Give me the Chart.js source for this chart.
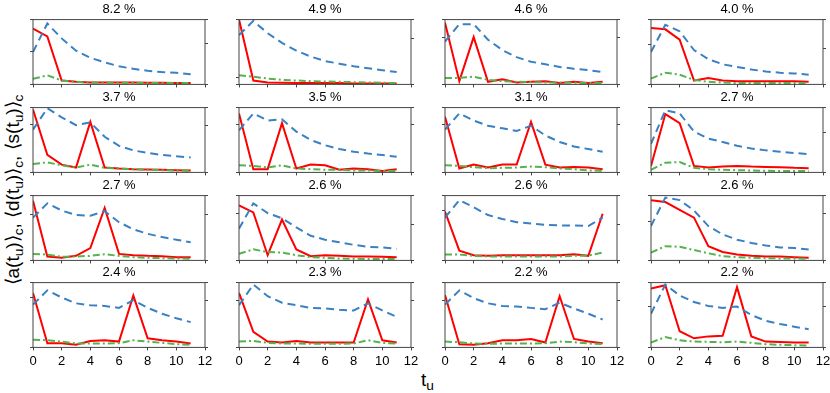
<!DOCTYPE html>
<html>
<head>
<meta charset="utf-8">
<script src="https://cdn.jsdelivr.net/npm/chart.js@4.4.1/dist/chart.umd.min.js"></script>
<style>
  body { margin: 0; background: #fff; width: 830px; height: 393px; position: relative; overflow: hidden;
         font-family: "Liberation Sans", Arial, sans-serif; }
  canvas { position: absolute; }
  #ylab { position: absolute; left: 13px; top: 190px; transform: translate(-50%, -50%) rotate(-90deg);
          white-space: nowrap; font-size: 19px; color: #000; }
  #xlab { position: absolute; left: 421px; top: 369px; font-size: 19px; color: #000; }
  sub { font-size: 0.72em; vertical-align: -4px; }
</style>
</head>
<body>
<div id="ylab">⟨a(t<sub>u</sub>)⟩<sub>c</sub>, ⟨d(t<sub>u</sub>)⟩<sub>c</sub>, ⟨s(t<sub>u</sub>)⟩<sub>c</sub></div>
<div id="xlab">t<sub>u</sub></div>
<script>
// panel titles (share of users)
const titles = ['8.2 %', '4.9 %', '4.6 %', '4.0 %',
                '3.7 %', '3.5 %', '3.1 %', '2.7 %',
                '2.7 %', '2.6 %', '2.6 %', '2.6 %',
                '2.4 %', '2.3 %', '2.2 %', '2.2 %'];

const tu = [0, 1, 2, 3, 4, 5, 6, 7, 8, 9, 10, 11];
const xTicks = [0, 2, 4, 6, 8, 10, 12];

// red solid line
const aVals = [
  [0.86, 0.74, 0.06, 0.04, 0.03, 0.03, 0.03, 0.03, 0.025, 0.025, 0.02, 0.02],
  [1.0, 0.06, 0.03, 0.025, 0.02, 0.02, 0.02, 0.02, 0.015, 0.015, 0.015, 0.015],
  [0.95, 0.05, 0.73, 0.04, 0.08, 0.03, 0.04, 0.05, 0.02, 0.04, 0.02, 0.04],
  [0.87, 0.85, 0.69, 0.06, 0.10, 0.06, 0.05, 0.05, 0.05, 0.05, 0.05, 0.04],
  [0.97, 0.27, 0.12, 0.075, 0.78, 0.075, 0.06, 0.05, 0.045, 0.04, 0.035, 0.03],
  [0.91, 0.05, 0.05, 0.76, 0.06, 0.12, 0.11, 0.04, 0.06, 0.05, 0.02, 0.05],
  [0.86, 0.06, 0.12, 0.075, 0.12, 0.12, 0.78, 0.12, 0.075, 0.085, 0.075, 0.05],
  [0.10, 0.90, 0.76, 0.10, 0.075, 0.09, 0.10, 0.09, 0.085, 0.08, 0.07, 0.065],
  [0.92, 0.06, 0.04, 0.07, 0.19, 0.81, 0.10, 0.08, 0.07, 0.065, 0.05, 0.05],
  [0.85, 0.74, 0.08, 0.63, 0.17, 0.065, 0.08, 0.07, 0.06, 0.06, 0.055, 0.05],
  [0.755, 0.15, 0.08, 0.07, 0.08, 0.08, 0.08, 0.08, 0.08, 0.095, 0.07, 0.72],
  [0.93, 0.90, 0.78, 0.66, 0.22, 0.13, 0.09, 0.07, 0.06, 0.06, 0.05, 0.04],
  [0.84, 0.065, 0.065, 0.04, 0.10, 0.11, 0.09, 0.80, 0.14, 0.11, 0.09, 0.06],
  [0.84, 0.24, 0.09, 0.075, 0.10, 0.075, 0.075, 0.075, 0.075, 0.74, 0.11, 0.075],
  [0.81, 0.05, 0.04, 0.065, 0.11, 0.11, 0.13, 0.075, 0.79, 0.13, 0.09, 0.065],
  [0.91, 0.96, 0.25, 0.14, 0.17, 0.18, 0.93, 0.17, 0.09, 0.085, 0.075, 0.075]
];

// blue dashed line (right axis)
const dVals = [
  [0.50, 0.94, 0.71, 0.52, 0.41, 0.34, 0.28, 0.24, 0.21, 0.19, 0.18, 0.155],
  [0.76, 0.98, 0.79, 0.64, 0.52, 0.43, 0.36, 0.32, 0.28, 0.25, 0.22, 0.19],
  [0.66, 0.93, 0.93, 0.69, 0.53, 0.42, 0.35, 0.31, 0.27, 0.24, 0.22, 0.19],
  [0.50, 0.92, 0.82, 0.53, 0.39, 0.31, 0.27, 0.23, 0.20, 0.18, 0.17, 0.15],
  [0.66, 0.99, 0.85, 0.73, 0.77, 0.55, 0.41, 0.34, 0.30, 0.27, 0.25, 0.23],
  [0.65, 0.91, 0.80, 0.82, 0.63, 0.50, 0.42, 0.36, 0.32, 0.29, 0.27, 0.24],
  [0.66, 0.91, 0.80, 0.72, 0.68, 0.64, 0.72, 0.57, 0.47, 0.40, 0.36, 0.32],
  [0.44, 0.96, 0.91, 0.63, 0.52, 0.47, 0.41, 0.37, 0.34, 0.32, 0.30, 0.28],
  [0.66, 0.88, 0.77, 0.70, 0.69, 0.76, 0.59, 0.48, 0.41, 0.36, 0.32, 0.28],
  [0.49, 0.88, 0.73, 0.65, 0.51, 0.38, 0.32, 0.28, 0.24, 0.21, 0.20, 0.18],
  [0.66, 0.93, 0.82, 0.70, 0.64, 0.59, 0.57, 0.55, 0.54, 0.54, 0.53, 0.66],
  [0.53, 0.97, 0.93, 0.77, 0.53, 0.40, 0.32, 0.27, 0.23, 0.20, 0.19, 0.17],
  [0.66, 0.88, 0.77, 0.68, 0.65, 0.64, 0.61, 0.73, 0.61, 0.52, 0.45, 0.39],
  [0.65, 0.97, 0.79, 0.69, 0.65, 0.61, 0.60, 0.58, 0.57, 0.68, 0.57, 0.47],
  [0.66, 0.88, 0.76, 0.68, 0.64, 0.63, 0.61, 0.59, 0.69, 0.60, 0.52, 0.43],
  [0.52, 0.97, 0.80, 0.70, 0.64, 0.61, 0.63, 0.50, 0.41, 0.36, 0.32, 0.28]
];

// green dash-dot line
const sVals = [
  [0.085, 0.14, 0.06, 0.04, 0.03, 0.03, 0.025, 0.025, 0.02, 0.02, 0.02, 0.02],
  [0.14, 0.12, 0.09, 0.07, 0.06, 0.05, 0.045, 0.04, 0.035, 0.03, 0.025, 0.02],
  [0.10, 0.10, 0.12, 0.07, 0.05, 0.04, 0.035, 0.03, 0.03, 0.025, 0.02, 0.02],
  [0.09, 0.18, 0.15, 0.07, 0.04, 0.03, 0.02, 0.02, 0.02, 0.02, 0.02, 0.02],
  [0.13, 0.155, 0.11, 0.075, 0.12, 0.07, 0.06, 0.05, 0.04, 0.035, 0.03, 0.025],
  [0.11, 0.10, 0.075, 0.11, 0.06, 0.05, 0.04, 0.04, 0.03, 0.03, 0.02, 0.02],
  [0.11, 0.10, 0.08, 0.065, 0.07, 0.075, 0.09, 0.08, 0.06, 0.05, 0.03, 0.025],
  [0.04, 0.15, 0.16, 0.07, 0.05, 0.04, 0.035, 0.03, 0.025, 0.02, 0.02, 0.02],
  [0.10, 0.09, 0.055, 0.06, 0.07, 0.095, 0.07, 0.05, 0.04, 0.035, 0.03, 0.025],
  [0.10, 0.17, 0.13, 0.12, 0.08, 0.05, 0.04, 0.03, 0.025, 0.02, 0.02, 0.02],
  [0.09, 0.09, 0.07, 0.06, 0.06, 0.06, 0.06, 0.06, 0.06, 0.07, 0.075, 0.12],
  [0.12, 0.22, 0.21, 0.16, 0.11, 0.065, 0.05, 0.04, 0.035, 0.03, 0.03, 0.025],
  [0.12, 0.11, 0.09, 0.06, 0.06, 0.06, 0.065, 0.11, 0.09, 0.07, 0.05, 0.04],
  [0.09, 0.10, 0.07, 0.06, 0.06, 0.055, 0.055, 0.055, 0.06, 0.11, 0.07, 0.06],
  [0.09, 0.08, 0.06, 0.055, 0.06, 0.06, 0.06, 0.065, 0.09, 0.08, 0.06, 0.05],
  [0.075, 0.16, 0.11, 0.09, 0.085, 0.08, 0.09, 0.07, 0.05, 0.04, 0.035, 0.03]
];

// the one inner tick on each side (labels are hidden in the original)
const leftTick  = [0.51, 0.10, 0.73, 0.62, 0.74, 0.74, 0.74, 0.74, 0.71, 0.73, 0.77, 0.60, 0.77, 0.72, 0.72, 0.63];
const rightTick = [0.63, 0.71, 0.73, 0.55, 0.72, 0.74, 0.74, 0.62, 0.71, 0.56, 0.56, 0.72, 0.72, 0.72, 0.72, 0.63];

// layout of the plot boxes
const colLeft = [33, 238.5, 444.5, 650.5];
const rowTop = [20, 108, 195.5, 283];
const CW = 198, CH = 109;

const spineColor = '#444';

const framePlugin = {
  id: 'frame',
  afterDatasetsDraw(chart) {
    const { ctx, chartArea: a } = chart;
    ctx.save();
    ctx.strokeStyle = spineColor;
    ctx.lineWidth = 1;
    ctx.strokeRect(a.left, a.top, a.right - a.left, a.bottom - a.top);
    ctx.restore();
  }
};

const pts = (vals) => tu.map((t, k) => ({ x: t, y: vals[k] }));

const sideAxis = (pos, tickVal) => ({
  type: 'linear',
  position: pos,
  min: 0,
  max: 1,
  ticks: { display: false },
  afterBuildTicks: (s) => { s.ticks = [{ value: 0 }, { value: tickVal }, { value: 1 }]; },
  grid: { drawOnChartArea: false, drawTicks: true, tickLength: 3, color: spineColor },
  border: { display: false }
});

titles.forEach((title, i) => {
  const row = Math.floor(i / 4), col = i % 4;
  const cv = document.createElement('canvas');
  cv.width = CW; cv.height = CH;
  cv.style.width = CW + 'px'; cv.style.height = CH + 'px';
  cv.style.left = Math.round(colLeft[col] - 13) + 'px';
  cv.style.top = Math.round(rowTop[row] - 19.6) + 'px';
  document.body.appendChild(cv);

  new Chart(cv, {
    type: 'line',
    data: {
      datasets: [
        { data: pts(sVals[i]), yAxisID: 'y', borderColor: '#55b24e', borderWidth: 2, borderDash: [7, 3, 2, 3], pointRadius: 0 },
        { data: pts(dVals[i]), yAxisID: 'y1', borderColor: '#3a80c3', borderWidth: 2, borderDash: [8, 5], pointRadius: 0 },
        { data: pts(aVals[i]), yAxisID: 'y', borderColor: '#ff0000', borderWidth: 2, pointRadius: 0 }
      ]
    },
    options: {
      responsive: false,
      animation: false,
      devicePixelRatio: 1,
      layout: { padding: { left: 10, right: 10, top: 0, bottom: 0 } },
      plugins: {
        legend: { display: false },
        tooltip: { enabled: false },
        title: {
          display: true,
          text: title,
          color: '#000',
          font: { family: '"Liberation Sans", Arial, sans-serif', size: 13, weight: 'normal' },
          padding: { top: 2, bottom: 2 }
        }
      },
      scales: {
        x: {
          type: 'linear',
          min: 0,
          max: 12,
          afterBuildTicks: (s) => { s.ticks = xTicks.map(v => ({ value: v })); },
          ticks: {
            color: row === 3 ? '#000' : 'rgba(0,0,0,0)',
            font: { family: '"Liberation Sans", Arial, sans-serif', size: 13 },
            padding: 3,
            maxRotation: 0,
            autoSkip: false
          },
          grid: { drawOnChartArea: false, drawTicks: true, tickLength: 3, color: spineColor },
          border: { display: false }
        },
        y: sideAxis('left', leftTick[i]),
        y1: sideAxis('right', rightTick[i])
      }
    },
    plugins: [framePlugin]
  });
});
</script>
</body>
</html>
